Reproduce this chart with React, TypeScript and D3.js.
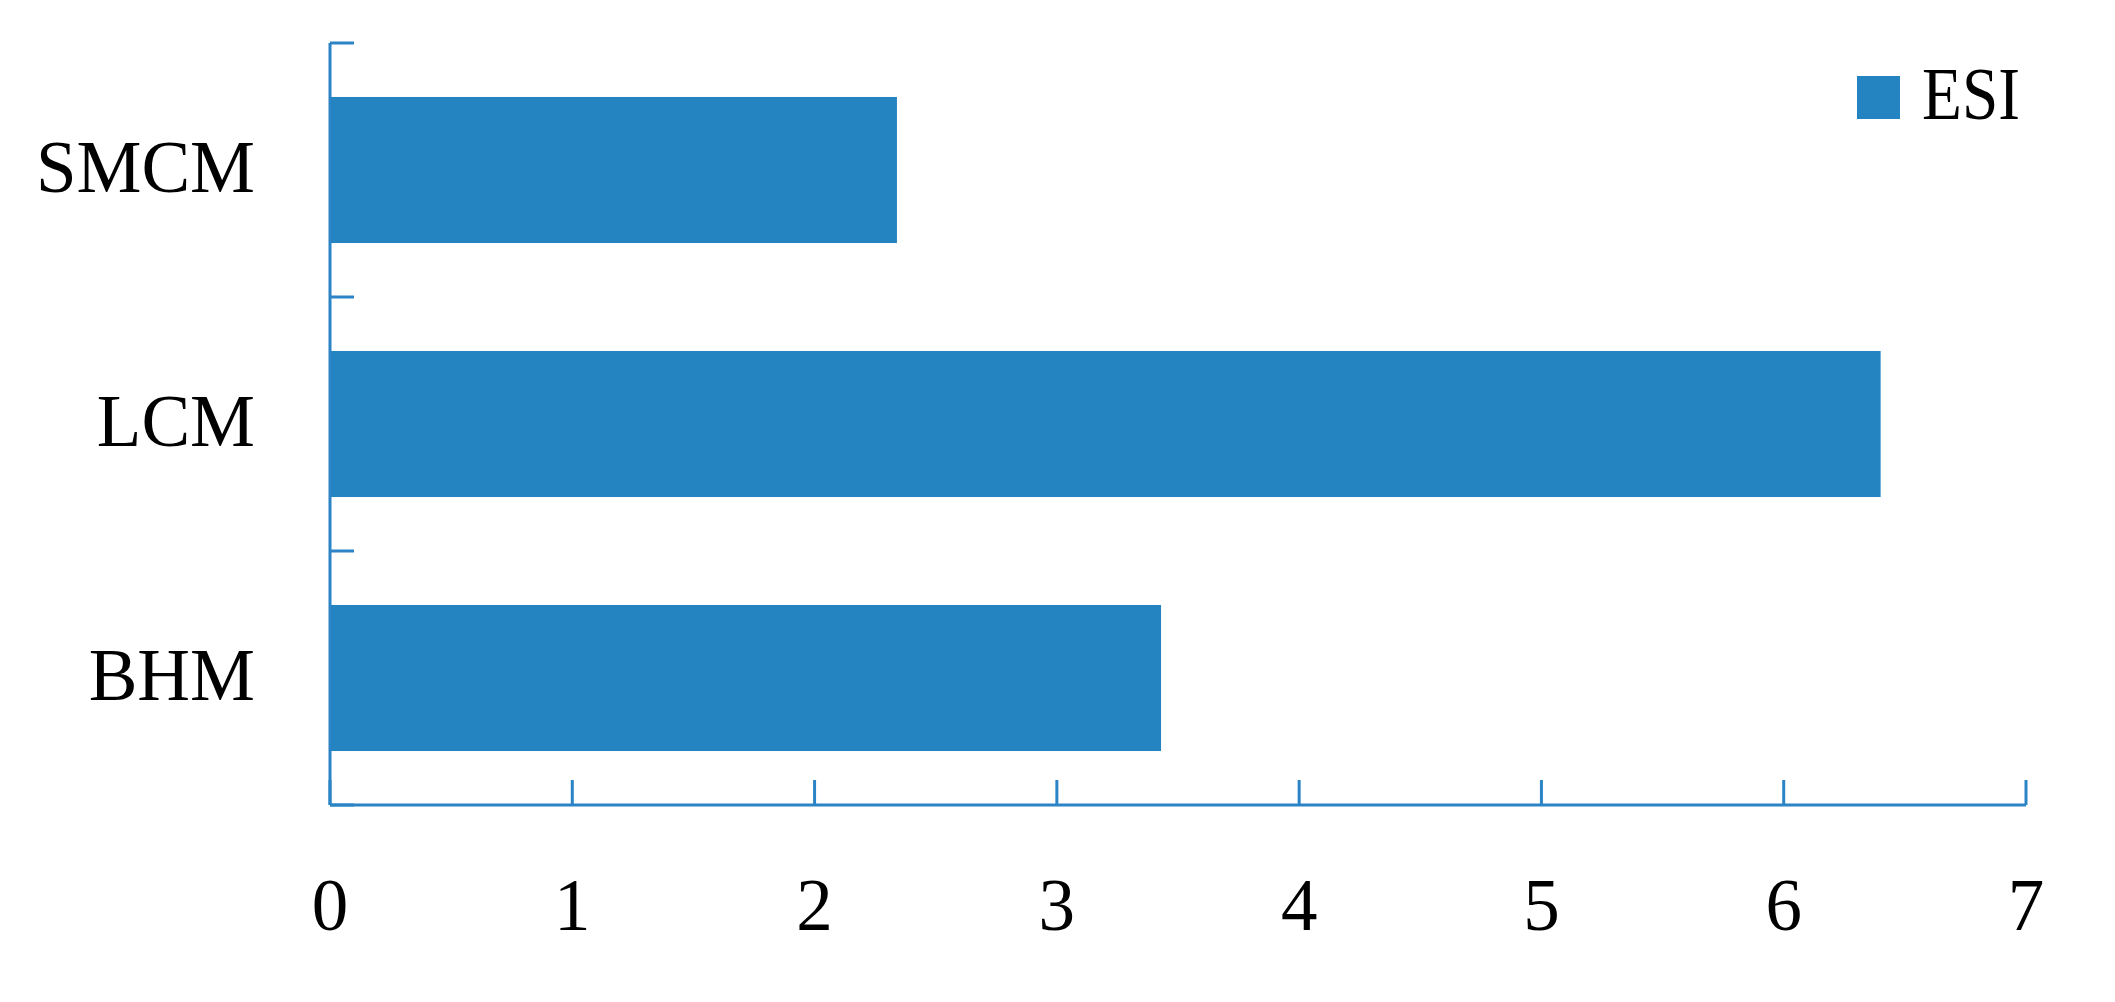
import React from "react";
import * as d3 from "d3";

const categories = ["SMCM", "LCM", "BHM"];
const esiValues = [2.34, 6.4, 3.43];
const xTicks = [0, 1, 2, 3, 4, 5, 6, 7];
const seriesName = "ESI";

const W = 2115;
const H = 1002;
const BLUE = "#2483C1";
const AXIS = "#2A84C6";
const FONT = "'Liberation Serif', 'DejaVu Serif', serif";

export default function App() {
  const x = d3.scaleLinear().domain([0, 7]).range([330, 2026]);
  const y = d3
    .scaleBand<string>()
    .domain(categories)
    .range([43, 805])
    .paddingInner(0.425)
    .paddingOuter(0.2125);
  const step = y.step();
  const bandEdges = d3.range(categories.length + 1).map((i) => 43 + i * step);

  return (
    <svg
      width={W}
      height={H}
      style={{ position: "absolute", left: 0, top: 0, background: "#fff" }}
    >
      {/* bars */}
      {categories.map((c, i) => (
        <rect
          key={c}
          x={x(0)}
          y={y(c)}
          width={x(esiValues[i]) - x(0)}
          height={y.bandwidth()}
          fill={BLUE}
        />
      ))}
      {/* y axis */}
      <line x1={x(0)} x2={x(0)} y1={43} y2={805} stroke={AXIS} strokeWidth={3} />
      {bandEdges.map((v, i) => (
        <line key={i} x1={x(0)} x2={x(0) + 24} y1={v} y2={v} stroke={AXIS} strokeWidth={3} />
      ))}
      {categories.map((c) => (
        <text
          key={c}
          x={255}
          y={(y(c) as number) + y.bandwidth() / 2 + 22}
          textAnchor="end"
          fontFamily={FONT}
          fontSize={73}
          fill="#000"
        >
          {c}
        </text>
      ))}
      {/* x axis */}
      <line x1={x(0)} x2={x(7)} y1={805} y2={805} stroke={AXIS} strokeWidth={3} />
      {xTicks.map((t) => (
        <g key={t}>
          <line x1={x(t)} x2={x(t)} y1={780} y2={805} stroke={AXIS} strokeWidth={3} />
          <text
            x={x(t)}
            y={930}
            textAnchor="middle"
            fontFamily={FONT}
            fontSize={73}
            fill="#000"
          >
            {t}
          </text>
        </g>
      ))}
      {/* legend */}
      <rect x={1857} y={76} width={43} height={43} fill={BLUE} />
      <text
        x={1922}
        y={119}
        fontFamily={FONT}
        fontSize={73}
        fill="#000"
        textLength={98}
        lengthAdjust="spacingAndGlyphs"
      >
        {seriesName}
      </text>
    </svg>
  );
}
